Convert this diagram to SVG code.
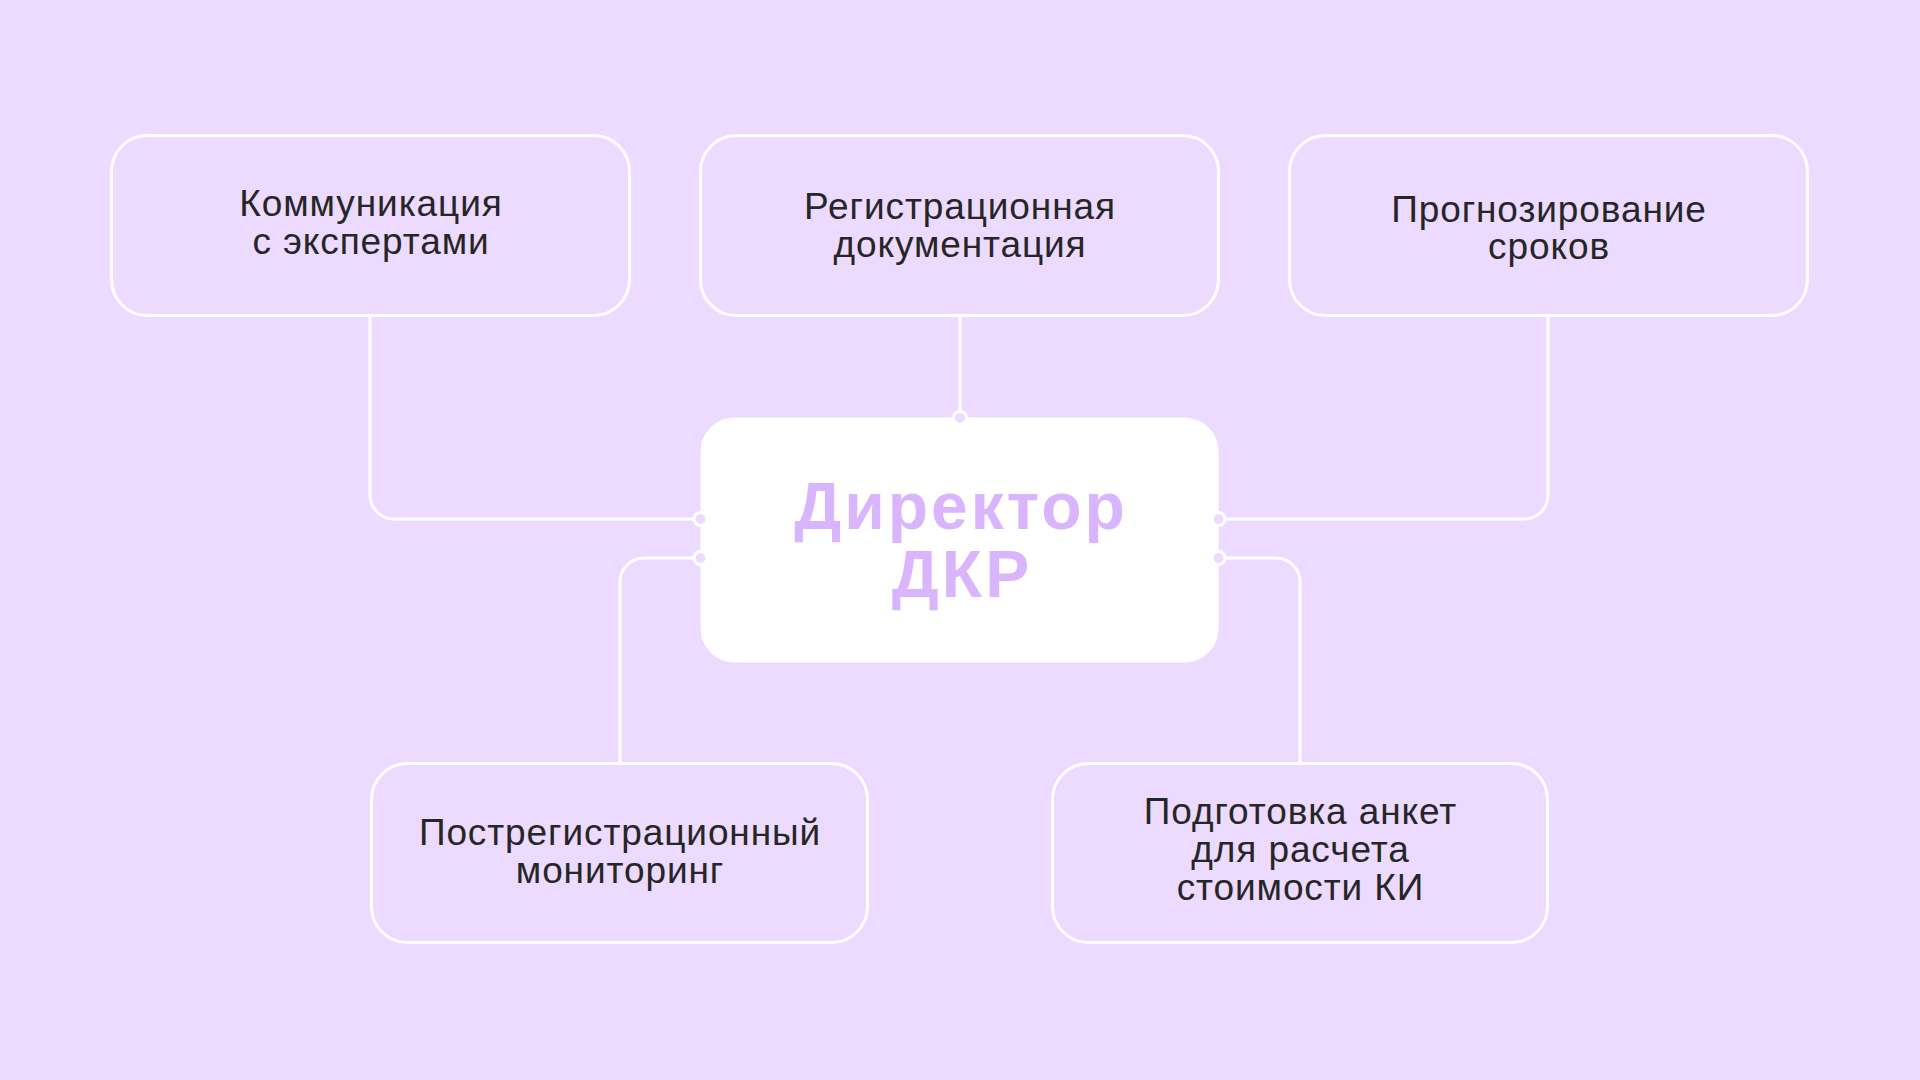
<svg xmlns="http://www.w3.org/2000/svg" width="1920" height="1080" viewBox="0 0 1920 1080">
<style>
.bg{fill:#ecdaff}
.box{fill:#ecdaff;stroke:#ffffff;stroke-width:3}
.center{fill:#ffffff}
.lbl{font-family:"Liberation Sans","Noto Sans",sans-serif;font-size:37px;letter-spacing:0.9px;fill:#262626;text-anchor:middle}
.title{font-family:"Liberation Sans","Noto Sans",sans-serif;font-size:66px;font-weight:700;letter-spacing:3px;fill:#d9b5fd;text-anchor:middle}
.conn{fill:none;stroke:#ffffff;stroke-width:3}
.dot{fill:#ecdaff;stroke:#ffffff;stroke-width:3}
</style>
<rect class="bg" x="0" y="0" width="1920" height="1080"/>
<g id="connectors">
<path class="conn" d="M370,316 V495 A24,24 0 0 0 394,519 H700"/>
<path class="conn" d="M960,316 V418"/>
<path class="conn" d="M1548,316 V495 A24,24 0 0 1 1524,519 H1219"/>
<path class="conn" d="M620,764 V582 A24,24 0 0 1 644,558 H700"/>
<path class="conn" d="M1300,764 V582 A24,24 0 0 0 1276,558 H1219"/>
</g>
<g id="node-komm">
<rect class="box" x="111.5" y="135.5" width="518" height="180" rx="36"/>
<text class="lbl" x="371" y="216">Коммуникация</text>
<text class="lbl" x="371" y="254">с экспертами</text>
</g>
<g id="node-reg">
<rect class="box" x="700.5" y="135.5" width="518" height="180" rx="36"/>
<text class="lbl" x="960" y="219">Регистрационная</text>
<text class="lbl" x="960" y="257">документация</text>
</g>
<g id="node-prog">
<rect class="box" x="1289.5" y="135.5" width="518" height="180" rx="36"/>
<text class="lbl" x="1549" y="222">Прогнозирование</text>
<text class="lbl" x="1549" y="259">сроков</text>
</g>
<g id="node-director">
<rect class="center" x="700.5" y="417.5" width="518" height="245" rx="34"/>
<text class="title" x="961" y="529">Директор</text>
<text class="title" x="962" y="597">ДКР</text>
<circle class="dot" cx="960" cy="418" r="6.5"/>
<circle class="dot" cx="700.5" cy="519" r="6.5"/>
<circle class="dot" cx="700.5" cy="558" r="6.5"/>
<circle class="dot" cx="1218.5" cy="519" r="6.5"/>
<circle class="dot" cx="1218.5" cy="558" r="6.5"/>
</g>
<g id="node-post">
<rect class="box" x="371.5" y="763.5" width="496" height="179" rx="36"/>
<text class="lbl" x="620" y="845">Пострегистрационный</text>
<text class="lbl" x="620" y="883">мониторинг</text>
</g>
<g id="node-anket">
<rect class="box" x="1052.5" y="763.5" width="495" height="179" rx="36"/>
<text class="lbl" x="1300.5" y="824">Подготовка анкет</text>
<text class="lbl" x="1300.5" y="862">для расчета</text>
<text class="lbl" x="1300.5" y="900">стоимости КИ</text>
</g>
</svg>
